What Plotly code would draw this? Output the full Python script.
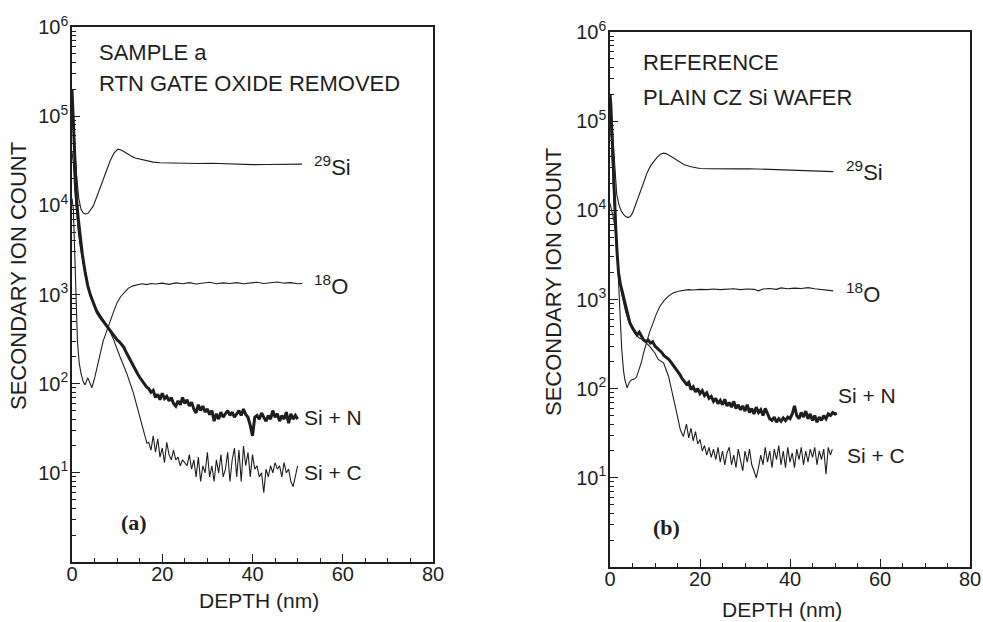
import plotly.graph_objects as go

# ---------------- data: panel (a) SAMPLE a ----------------
si29_a_depth = [0, 0.3, 0.6, 1.0, 1.5, 2.0, 2.5, 3.0, 3.5, 4.0, 4.7, 5.5, 6.2, 7.0, 7.7, 8.5, 9.3, 10.2,
                11.0, 12.0, 13.0, 14.0, 15.0, 16.5, 18.0, 19.5, 22.0, 25.0, 28.0, 31.0, 34.0, 37.0, 40.0,
                43.0, 46.0, 49.0, 51.0]
si29_a = [1.6e5, 9e4, 4.5e4, 2.2e4, 1.2e4, 9000, 8200, 8000, 8100, 8700, 9800, 12500, 15500, 19500, 25000,
          32000, 38500, 42600, 41500, 38500, 36000, 34000, 33000, 31500, 30500, 30000, 29700, 29800, 29500,
          29600, 29200, 29000, 28600, 28700, 28900, 29000, 29000]

o18_a_depth = [0, 0.3, 0.6, 0.9, 1.2, 1.6, 2.0, 2.5, 2.9, 3.5, 4.4, 5.0, 5.6, 6.2, 6.9, 7.5, 8.0, 8.6, 9.3,
               10.0, 10.8, 11.8, 12.5, 13.5, 14.5, 15.5, 16.5, 17.5, 18.5, 20.0, 21.5, 23.0, 24.5, 26.0,
               27.5, 29.0, 30.5, 32.0, 33.5, 35.0, 36.5, 38.0, 39.5, 41.0, 42.5, 44.0, 45.5, 47.0, 48.5,
               50.0, 51.0]
o18_a = [1.2e4, 9000, 3000, 700, 300, 170, 130, 105, 97, 117, 90, 115, 150, 210, 300, 370, 425, 530, 660,
         810, 950, 1080, 1180, 1250, 1290, 1320, 1290, 1330, 1310, 1340, 1300, 1350, 1320, 1360, 1310, 1340,
         1370, 1320, 1350, 1330, 1360, 1320, 1350, 1370, 1330, 1360, 1380, 1340, 1360, 1320, 1330]

sin_a_depth = [0, 0.3, 0.6, 1.0, 1.4, 1.8, 2.3, 2.9, 3.5, 4.1, 4.7, 5.5, 6.2, 6.9, 7.5, 8.0, 8.6, 9.3,
               10.0, 10.5, 11.0, 11.5, 12.0, 12.5, 13.0, 13.5, 14.0, 14.5, 15.0, 15.5, 16.0, 16.5, 17.0,
               17.5, 18.0, 18.5, 19.0, 19.5, 20.0, 20.5, 21.0, 21.5, 22.0, 22.5, 23.0, 23.5, 24.0, 24.5,
               25.0, 25.5, 26.0, 26.5, 27.0, 27.5, 28.0, 28.5, 29.0, 29.5, 30.0, 30.5, 31.0, 31.5, 32.0,
               32.5, 33.0, 33.5, 34.0, 34.5, 35.0, 35.5, 36.0, 36.5, 37.0, 37.5, 38.0, 38.5, 39.0, 39.5,
               40.0, 40.5, 41.0, 41.5, 42.0, 42.5, 43.0, 43.5, 44.0, 44.5, 45.0, 45.5, 46.0, 46.5, 47.0,
               47.5, 48.0, 48.5, 49.0, 49.5, 50.0]
sin_a = [2e5, 8e4, 3e4, 1.2e4, 7000, 4500, 2800, 1800, 1250, 980, 810, 640, 560, 500, 460, 425, 390, 350,
         310, 295, 270, 255, 225, 200, 180, 160, 140, 130, 118, 108, 102, 92, 88,
         80, 84, 70, 76, 66, 78, 68, 72, 64, 70, 60, 56, 64, 58, 70,
         60, 66, 56, 62, 52, 47, 58, 50, 56, 48, 52, 45, 50, 38, 46,
         40, 48, 42, 46, 50, 44, 48, 42, 46, 50, 44, 52, 45, 42, 34,
         26, 42, 44, 40, 47, 42, 38, 44, 40, 50, 42, 46, 38, 44, 40,
         48, 36, 46, 40, 44, 40]

sic_a_depth = [0, 0.3, 0.6, 1.0, 1.4, 1.8, 2.3, 2.9, 3.5, 4.1, 4.7, 5.5, 6.2, 6.9, 7.5, 8.05, 9.2, 10.6,
               12.1, 13.6, 14.7, 15.4, 16.6, 17.0, 17.5, 18.0, 18.5, 19.0, 19.5, 20.0, 20.5, 21.0, 21.5,
               22.0, 22.5, 23.0, 23.5, 24.0, 24.5, 25.0, 25.5, 26.0, 26.5, 27.0, 27.5, 28.0, 28.5, 29.0,
               29.5, 30.0, 30.5, 31.0, 31.5, 32.0, 32.5, 33.0, 33.5, 34.0, 34.5, 35.0, 35.5, 36.0, 36.5,
               37.0, 37.5, 38.0, 38.5, 39.0, 39.5, 40.0, 40.5, 41.0, 41.5, 42.0, 42.5, 43.0, 43.5, 44.0,
               44.5, 45.0, 45.5, 46.0, 46.5, 47.0, 47.5, 48.0, 48.5, 49.0, 49.5, 50.0]
sic_a = [4e4, 3e4, 1.5e4, 8000, 5000, 3500, 2400, 1700, 1250, 1000, 830, 680, 590, 520, 470, 423, 312, 203,
         132, 79, 47, 36, 21.5, 22, 18, 26, 17, 24, 15, 19, 13, 22, 16,
         14, 18, 14, 15, 12, 14, 13, 12, 16, 11, 14, 9, 15, 8, 12,
         10, 17, 9, 12, 8, 14, 10, 16, 9, 11, 17, 8, 14, 19, 9,
         18, 8, 20, 12, 17, 9, 16, 11, 12, 9, 10, 6, 11, 9, 12,
         10, 13, 11, 12, 9, 13, 10, 11, 8, 7, 9, 12]

# ---------------- data: panel (b) REFERENCE ----------------
si29_b_depth = [0, 0.3, 0.6, 1.0, 1.5, 2.0, 2.5, 3.0, 3.5, 4.0, 4.5, 5.0, 5.8, 6.7, 7.4, 8.2, 9.0, 9.6,
                10.5, 11.2, 11.9, 12.6, 13.5, 14.5, 15.6, 16.5, 18.0, 20.0, 22.0, 25.0, 28.0, 31.0, 34.0,
                37.0, 40.0, 43.0, 46.0, 49.6]
si29_b = [2e5, 1.2e5, 6e4, 3e4, 1.5e4, 11500, 9800, 9000, 8500, 8300, 8500, 9300, 11800, 15800, 20000,
          26000, 31500, 34500, 39500, 42500, 43800, 43000, 40500, 37500, 34500, 32500, 30800, 29500, 29300,
          29000, 29200, 29300, 29000, 28500, 28000, 27800, 27600, 27200]

o18_b_depth = [0, 0.4, 0.8, 1.2, 1.5, 1.8, 2.2, 2.6, 3.0, 3.3, 3.8, 4.3, 4.8, 5.4, 5.9, 6.5, 7.0, 7.5, 8.1,
               8.8, 9.6, 10.3, 11.1, 12.0, 13.0, 14.0, 15.2, 16.3, 17.4, 18.5, 20.0, 21.5, 23.0, 24.5, 26.0,
               27.5, 29.0, 30.5, 32.0, 33.0, 34.0, 35.5, 37.0, 38.0, 39.5, 41.0, 42.5, 44.0, 45.5, 47.0,
               48.5, 49.6]
o18_b = [1.2e4, 1.0e4, 8000, 6000, 4500, 2000, 600, 280, 160, 126, 102, 118, 126, 128, 135, 165, 200, 255,
         330, 430, 550, 690, 840, 970, 1090, 1180, 1240, 1270, 1290, 1280, 1300, 1290, 1310, 1290, 1300,
         1320, 1290, 1310, 1300, 1250, 1310, 1330, 1300, 1350, 1320, 1340, 1330, 1360, 1320, 1300, 1260,
         1250]

sin_b_depth = [0, 0.2, 0.4, 0.7, 1.0, 1.3, 1.6, 1.9, 2.3, 2.6, 3.0, 3.5, 4.0, 4.4, 5.0, 5.5, 6.0, 6.5, 7.0,
               7.5, 8.0, 8.5, 9.0, 9.5, 10.0, 10.5, 11.0, 11.5, 12.0, 12.5, 13.0, 13.5, 14.0, 14.5, 15.0,
               15.5, 16.0, 16.5, 17.0, 17.5, 18.0, 18.5, 19.0, 19.5, 20.0, 20.5, 21.0, 21.5, 22.0, 22.5,
               23.0, 23.5, 24.0, 24.5, 25.0, 25.5, 26.0, 26.5, 27.0, 27.5, 28.0, 28.5, 29.0, 29.5, 30.0,
               30.5, 31.0, 31.5, 32.0, 32.5, 33.0, 33.5, 34.0, 34.5, 35.0, 35.5, 36.0, 36.5, 37.0, 37.5,
               38.0, 38.5, 39.0, 39.5, 40.0, 40.5, 41.0, 41.5, 42.0, 42.5, 43.0, 43.5, 44.0, 44.5, 45.0,
               45.5, 46.0, 46.5, 47.0, 47.5, 48.0, 48.5, 49.0, 49.5, 50.0, 50.4]
sin_b = [2e5, 1.5e5, 8e4, 3e4, 1.2e4, 6000, 3200, 2000, 1500, 1300, 1000, 780, 620, 550, 480, 440, 400, 430,
         380, 350, 340, 350, 325, 335, 300, 285, 265, 255, 235, 225, 215, 200, 185, 170, 155,
         145, 130, 120, 112, 118, 98, 105, 92, 100, 88, 95, 84, 90, 78, 82,
         72, 78, 68, 74, 66, 76, 64, 70, 62, 72, 60, 66, 58, 64, 56,
         66, 54, 60, 52, 62, 54, 58, 50, 60, 52, 46, 44, 48, 42, 46,
         43, 47, 44, 48, 46, 52, 64, 50, 46, 54, 48, 56, 46, 52, 44,
         50, 42, 48, 44, 50, 46, 52, 50, 54, 52, 53]

sic_b_depth = [0, 0.2, 0.4, 0.7, 1.0, 1.3, 1.6, 1.9, 2.3, 2.6, 3.0, 3.5, 4.0, 4.5, 5.0, 5.5, 6.0, 6.5, 7.0,
               7.5, 8.0, 8.5, 9.0, 9.5, 10.0, 10.7, 11.9, 13.0, 13.7, 14.4, 15.0, 15.6, 16.3, 16.5, 17.0,
               17.5, 18.0, 18.5, 19.0, 19.5, 20.0, 20.5, 21.0, 21.5, 22.0, 22.5, 23.0, 23.5, 24.0, 24.5,
               25.0, 25.5, 26.0, 26.5, 27.0, 27.5, 28.0, 28.5, 29.0, 29.5, 30.0, 30.5, 31.0, 31.5, 32.0,
               32.5, 33.0, 33.5, 34.0, 34.5, 35.0, 35.5, 36.0, 36.5, 37.0, 37.5, 38.0, 38.5, 39.0, 39.5,
               40.0, 40.5, 41.0, 41.5, 42.0, 42.5, 43.0, 43.5, 44.0, 44.5, 45.0, 45.5, 46.0, 46.5, 47.0,
               47.5, 48.0, 48.5, 49.0, 49.4]
sic_b = [1.2e5, 8e4, 5e4, 2e4, 9000, 5000, 3000, 2000, 1400, 1150, 900, 720, 600, 520, 460, 420, 390, 370,
         360, 345, 330, 310, 290, 270, 250, 213, 195, 138, 98, 69, 49, 35, 29, 32, 40,
         28, 36, 26, 33, 24, 27, 20, 23, 18, 22, 17, 21, 16, 22, 15,
         20, 14, 19, 22, 14, 18, 13, 21, 16, 12, 20, 15, 21, 14, 12,
         10, 13, 18, 14, 22, 15, 20, 13, 21, 16, 23, 14, 20, 13, 22,
         15, 19, 13, 21, 16, 22, 14, 20, 15, 21, 17, 22, 14, 20, 16,
         21, 11, 22, 18, 21]

x_tick_vals = [0, 20, 40, 60, 80]
y_tick_vals = [10, 100, 1e3, 1e4, 1e5, 1e6]
y_tick_text = ["10<sup>1</sup>", "10<sup>2</sup>", "10<sup>3</sup>", "10<sup>4</sup>",
               "10<sup>5</sup>", "10<sup>6</sup>"]

# ---------------- figure ----------------
W, H = 983, 622
INK = "#1e1e1e"
SANS = "Liberation Sans, Arial, sans-serif"
SERIF = "Liberation Serif, Times New Roman, serif"


def fx(px):
    return px / W


def fy(py):
    return 1 - py / H


fig = go.Figure()

panels = [
    ("x", "y", [(si29_a_depth, si29_a, 1.1), (o18_a_depth, o18_a, 1.1),
                (sin_a_depth, sin_a, 3.0), (sic_a_depth, sic_a, 1.1)]),
    ("x2", "y2", [(si29_b_depth, si29_b, 1.1), (o18_b_depth, o18_b, 1.1),
                  (sin_b_depth, sin_b, 3.0), (sic_b_depth, sic_b, 1.1)]),
]
for xa, ya, series in panels:
    for dx, dy, lw in series:
        fig.add_trace(go.Scatter(x=dx, y=dy, mode="lines", xaxis=xa, yaxis=ya,
                                 line=dict(color=INK, width=lw), showlegend=False,
                                 hoverinfo="skip"))

axis_common = dict(showgrid=False, zeroline=False, showline=True, mirror=True, automargin=False,
                   linecolor=INK, linewidth=1.6, ticks="inside", tickcolor=INK,
                   tickwidth=1.4, tickfont=dict(family=SANS, size=20, color=INK))
xcommon = dict(axis_common, range=[0, 80], tickvals=x_tick_vals, ticklen=8,
               ticklabelstandoff=-7,
               minor=dict(ticks="inside", dtick=5, ticklen=4, tickcolor=INK, tickwidth=1))
ycommon = dict(axis_common, type="log", range=[0, 6], tickvals=y_tick_vals,
               ticktext=y_tick_text, ticklen=8, ticklabelstandoff=-2,
               minor=dict(ticks="inside", dtick="D1", ticklen=4, tickcolor=INK, tickwidth=1))

fig.update_layout(
    template="none",
    width=W, height=H, margin=dict(l=0, r=0, t=0, b=0, pad=0), autosize=False,
    paper_bgcolor="white", plot_bgcolor="white",
    xaxis=dict(xcommon, domain=[fx(72), fx(433)], anchor="y"),
    yaxis=dict(ycommon, domain=[fy(562), fy(27)], anchor="x"),
    xaxis2=dict(xcommon, domain=[fx(610), fx(970)], anchor="y2"),
    yaxis2=dict(ycommon, domain=[fy(567), fy(32)], anchor="x2"),
)

texts = [
    # (text, px, py, anchor, size, family, angle)
    ("SAMPLE a", 97, 52, "left", 22, SANS, 0),
    ("RTN GATE OXIDE REMOVED", 97, 83, "left", 22, SANS, 0),
    ("<sup>29</sup>Si", 312, 166, "left", 22, SANS, 0),
    ("<sup>18</sup>O", 312, 285, "left", 22, SANS, 0),
    ("Si + N", 302, 417, "left", 21, SANS, 0),
    ("Si + C", 302, 473, "left", 21, SANS, 0),
    ("<b>(a)</b>", 119, 522, "left", 22, SERIF, 0),
    ("DEPTH (nm)", 259, 600, "center", 21, SANS, 0),
    ("SECONDARY ION COUNT", 18, 276, "center", 22, SANS, -90),
    ("REFERENCE", 641, 62, "left", 22, SANS, 0),
    ("PLAIN CZ Si WAFER", 641, 97, "left", 22, SANS, 0),
    ("<sup>29</sup>Si", 844, 171, "left", 22, SANS, 0),
    ("<sup>18</sup>O", 844, 293, "left", 22, SANS, 0),
    ("Si + N", 836, 395, "left", 21, SANS, 0),
    ("Si + C", 845, 455, "left", 21, SANS, 0),
    ("<b>(b)</b>", 651, 527, "left", 22, SERIF, 0),
    ("DEPTH (nm)", 782, 609, "center", 21, SANS, 0),
    ("SECONDARY ION COUNT", 553, 282, "center", 22, SANS, -90),
]
for t, px, py, anc, sz, fam, ang in texts:
    fig.add_annotation(text=t, x=fx(px), y=fy(py), xref="paper", yref="paper",
                       xanchor=anc, yanchor="middle", showarrow=False, textangle=ang,
                       font=dict(family=fam, size=sz, color=INK))

fig.write_html("out.html", config={"displayModeBar": False},
               post_script="document.body.style.margin='0px';")
